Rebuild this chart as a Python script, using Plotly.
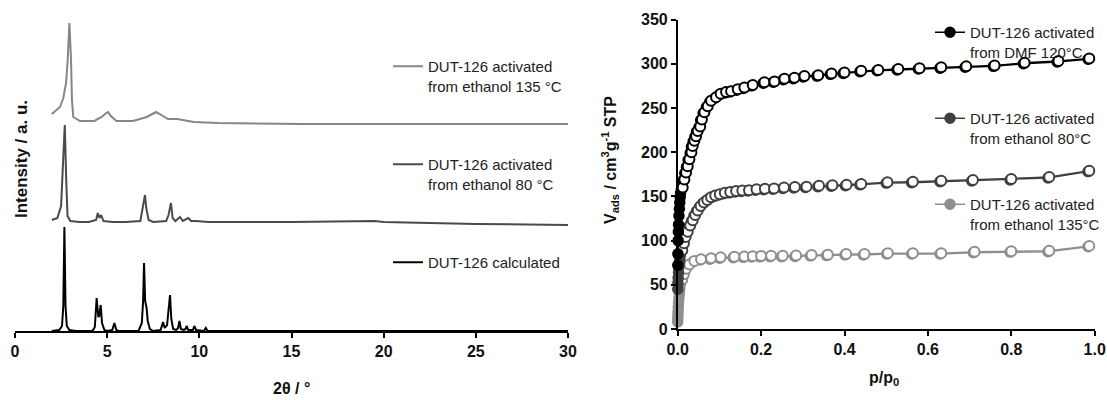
import plotly.graph_objects as go

# ---------------- powder X-ray diffraction (2θ / °, intensity / a. u.) ----------------
tt_calc = [2.0, 2.4, 2.55, 2.62, 2.68, 2.74, 2.81, 2.95, 3.3,
           4.2, 4.33, 4.43, 4.52, 4.57, 4.65, 4.72, 4.85, 5.0,
           5.28, 5.39, 5.5, 5.6,
           6.7, 6.88, 6.95, 7.0, 7.06, 7.14, 7.2, 7.32, 7.5,
           7.9, 8.03, 8.12, 8.25, 8.34, 8.41, 8.48, 8.58, 8.75,
           8.85, 8.92, 9.0, 9.15, 9.25, 9.31, 9.4, 9.65, 9.73, 9.82,
           10.25, 10.35, 10.45, 12.0, 30.0]
int_calc = [0, 1, 5, 25, 104, 25, 5, 1, 0,
            0, 4, 33, 14, 15, 26, 8, 1, 0,
            1, 8, 1, 0,
            0, 8, 30, 68, 30, 23, 10, 2, 0,
            1, 9, 3, 6, 22, 36, 12, 2, 1,
            3, 10, 2, 1, 2, 5, 1, 1, 5, 1,
            0, 3, 0, 0, 0]

tt_80 = [2.0, 2.3, 2.5, 2.6, 2.7, 2.78, 2.85, 3.0, 3.5, 4.0,
         4.4, 4.49, 4.58, 4.67, 4.8, 5.3, 6.0, 6.8, 6.95, 7.05,
         7.12, 7.25, 7.5, 8.2, 8.33, 8.46, 8.55, 8.7, 8.95, 9.1,
         9.4, 9.55, 9.8, 10.5, 15.0, 19.5, 20.0, 25.0, 30.0]
int_80 = [3, 5, 17, 52, 98, 42, 7, 2, 1, 1,
          3, 10, 5, 8, 2, 1, 1, 2, 17, 28,
          15, 3, 1, 2, 8, 20, 5, 2, 6, 2,
          5, 2, 2, 1, 1, 2, 1, -1, -2]

tt_135 = [2.0, 2.44, 2.62, 2.77, 2.86, 2.95, 3.04, 3.09, 3.16, 3.53,
          4.3, 4.7, 4.95, 5.05, 5.2, 5.5, 6.4, 7.15, 7.45, 7.65,
          7.85, 8.3, 8.8, 9.7, 11.0, 15.5, 30.0]
int_135 = [10, 17, 26, 41, 64, 101, 64, 24, 7, 3,
           3, 7, 11, 12, 8, 3, 3, 7, 10, 12,
           10, 5, 5, 2, 1, 0, 0]

# vertical stacking of the patterns
offset_calc, offset_80, offset_135 = 0, 108, 207

xrd_ticks = [0, 5, 10, 15, 20, 25, 30]

# ---------------- N2 physisorption isotherms (p/p0, V_ads / cm3 g-1 STP) ----------------
p_dmf_ads = [0.0002, 0.0005, 0.001, 0.0015, 0.002, 0.003, 0.004, 0.005, 0.006, 0.007,
             0.009, 0.013, 0.017, 0.021, 0.025, 0.030, 0.033, 0.037, 0.041, 0.045,
             0.051, 0.055, 0.061, 0.069, 0.077, 0.089, 0.100, 0.113, 0.125, 0.141,
             0.157, 0.177, 0.205, 0.229, 0.253, 0.277, 0.301, 0.334, 0.366, 0.397,
             0.437, 0.478, 0.526, 0.577, 0.629, 0.689, 0.757, 0.829, 0.910, 0.984]
v_dmf_ads = [72, 85, 100, 110, 118, 128, 136, 143, 149, 154,
             159, 168, 176, 183, 191, 199, 206, 212, 217, 223,
             228, 236, 244, 251, 257, 261, 265, 267, 268, 270,
             272, 275, 278, 279, 282, 283, 285, 286, 288, 289,
             291, 292, 293, 294, 295, 296, 297, 300, 302, 305]
p_dmf_des = [0.012, 0.016, 0.020, 0.024, 0.028, 0.033, 0.036, 0.040, 0.044, 0.048,
             0.054, 0.058, 0.064, 0.072, 0.080, 0.092, 0.103, 0.116, 0.128, 0.144,
             0.160, 0.180, 0.208, 0.232, 0.256, 0.280, 0.304, 0.337, 0.369, 0.400,
             0.440, 0.481, 0.529, 0.580, 0.632, 0.692, 0.760, 0.832, 0.913, 0.987]
v_dmf_des = [160, 169, 177, 184, 192, 200, 207, 213, 218, 224,
             229, 237, 245, 252, 258, 262, 266, 268, 269, 271,
             273, 276, 279, 280, 283, 284, 286, 287, 289, 290,
             292, 293, 294, 295, 296, 297, 298, 301, 303, 306]

p_80_ads = [0.0002, 0.0005, 0.001, 0.002, 0.003, 0.004, 0.005, 0.006, 0.008, 0.012,
            0.016, 0.021, 0.027, 0.033, 0.039, 0.045, 0.052, 0.060, 0.068, 0.077,
            0.087, 0.098, 0.110, 0.123, 0.137, 0.152, 0.168, 0.186, 0.206, 0.228,
            0.252, 0.278, 0.306, 0.336, 0.368, 0.402, 0.437, 0.500, 0.561, 0.629,
            0.705, 0.797, 0.888, 0.984]
v_80_ads = [45, 52, 58, 64, 70, 75, 79, 83, 88, 96,
            103, 109, 116, 122, 128, 133, 138, 142, 145, 148,
            150, 151.5, 153, 154, 155, 155.5, 156, 157, 157.5, 158,
            159, 159.5, 160, 161, 161.5, 162, 163, 165, 165.5, 166.6,
            167.4, 168.5, 170.8, 178]
p_80_des = [0.011, 0.015, 0.019, 0.024, 0.030, 0.036, 0.042, 0.048, 0.055, 0.063,
            0.071, 0.080, 0.090, 0.101, 0.113, 0.126, 0.140, 0.155, 0.171, 0.189,
            0.209, 0.231, 0.255, 0.281, 0.309, 0.339, 0.371, 0.405, 0.440, 0.503,
            0.564, 0.632, 0.708, 0.800, 0.891, 0.987]
v_80_des = [89, 97, 104, 110, 117, 123, 129, 134, 139, 143,
            146, 149, 151, 152.5, 154, 155, 156, 156.5, 157, 158,
            158.5, 159, 160, 160.5, 161, 162, 162.5, 163, 164, 166,
            166.5, 167.6, 168.4, 169.5, 171.8, 179]

p_135_ads = [0.0001, 0.0003, 0.0006, 0.001, 0.0015, 0.002, 0.003, 0.004, 0.005, 0.006,
             0.008, 0.012, 0.017, 0.025, 0.037, 0.053, 0.077, 0.100, 0.133, 0.157,
             0.177, 0.197, 0.221, 0.249, 0.281, 0.318, 0.357, 0.401, 0.445, 0.501,
             0.561, 0.629, 0.709, 0.797, 0.888, 0.984]
v_135_ads = [8, 12, 16, 20, 25, 30, 35, 40, 45, 50,
             55, 61, 67, 72, 76, 78, 79, 80, 80.6, 81,
             81.4, 81.6, 81.8, 81.8, 82, 82.6, 83, 83.7, 83.7, 84.8,
             84.8, 84.8, 86.3, 87, 87.4, 93]
p_135_des = [0.011, 0.015, 0.020, 0.028, 0.040, 0.056, 0.080, 0.103, 0.136, 0.160,
             0.180, 0.200, 0.224, 0.252, 0.284, 0.321, 0.360, 0.404, 0.448, 0.504,
             0.564, 0.632, 0.712, 0.800, 0.891, 0.987]
v_135_des = [56, 62, 68, 73, 77, 79, 80, 81, 81.6, 82,
             82.4, 82.6, 82.8, 82.8, 83, 83.6, 84, 84.7, 84.7, 85.8,
             85.8, 85.8, 87.3, 88, 88.4, 94]

iso_x_ticks = [0.0, 0.2, 0.4, 0.6, 0.8, 1.0]
iso_y_ticks = [0, 50, 100, 150, 200, 250, 300, 350]

FONT = "Arial, 'Liberation Sans', sans-serif"
W, H = 1107, 400
C_BLACK, C_DARK, C_LIGHT = "#000000", "#404040", "#8e8e8e"
C_XRD_DARK, C_XRD_LIGHT = "#4a4a4a", "#868686"

fig = go.Figure()

# --- XRD patterns ---
xrd = [
    (tt_135, int_135, offset_135, C_XRD_LIGHT, "DUT-126 activated<br>from ethanol 135 °C", "legend"),
    (tt_80, int_80, offset_80, C_XRD_DARK, "DUT-126 activated<br>from ethanol 80 °C", "legend2"),
    (tt_calc, int_calc, offset_calc, C_BLACK, "DUT-126 calculated", "legend3"),
]
for tt, inten, off, col, name, lg in xrd:
    fig.add_trace(go.Scatter(
        x=tt, y=[v + off for v in inten], mode="lines", name=name,
        line=dict(color=col, width=2), xaxis="x", yaxis="y", legend=lg,
    ))

# --- isotherms: filled = adsorption, open = desorption ---
iso = [
    (p_135_ads, v_135_ads, p_135_des, v_135_des, C_LIGHT, "DUT-126 activated<br>from ethanol 135°C", "legend6"),
    (p_80_ads, v_80_ads, p_80_des, v_80_des, C_DARK, "DUT-126 activated<br>from ethanol 80°C", "legend5"),
    (p_dmf_ads, v_dmf_ads, p_dmf_des, v_dmf_des, C_BLACK, "DUT-126 activated<br>from DMF 120°C", "legend4"),
]
for pa, va, pd, vd, col, name, lg in iso:
    fig.add_trace(go.Scatter(
        x=pa, y=va, mode="lines+markers", name=name, legend=lg,
        line=dict(color=col, width=1.5),
        marker=dict(symbol="circle", size=10, color=col, line=dict(color=col, width=1.5)),
        xaxis="x2", yaxis="y2", cliponaxis=False,
    ))
    fig.add_trace(go.Scatter(
        x=pd, y=vd, mode="lines+markers", showlegend=False,
        line=dict(color=col, width=1.5),
        marker=dict(symbol="circle", size=10, color="white", line=dict(color=col, width=2)),
        xaxis="x2", yaxis="y2", cliponaxis=False,
    ))

tickfont = dict(family=FONT, size=16, color="#111111")
axis_common = dict(showgrid=False, zeroline=False, showline=True, linecolor="#000000",
                   linewidth=1.5, ticks="outside", ticklen=5, tickwidth=1.5,
                   tickcolor="#000000", tickfont=tickfont, automargin=False)


def bold(vals, fmt):
    return [f"<b>{fmt.format(v)}</b>" for v in vals]


def legend_at(x_px, y_px):
    return dict(x=x_px / W, y=1 - y_px / H, xanchor="left", yanchor="top",
                bgcolor="rgba(0,0,0,0)", borderwidth=0, valign="top", itemwidth=30,
                font=dict(family=FONT, size=15, color="#222222"))


def title_note(text, x_px, y_px, angle=0, size=16):
    return dict(text=f"<b>{text}</b>", x=x_px / W, y=1 - y_px / H, xref="paper", yref="paper",
                xanchor="center", yanchor="middle", textangle=angle, showarrow=False,
                font=dict(family=FONT, size=size, color="#111111"))


fig.update_layout(
    template="none",
    width=W, height=H, margin=dict(l=0, r=0, t=0, b=0, autoexpand=False),
    paper_bgcolor="white", plot_bgcolor="white",
    font=dict(family=FONT),
    xaxis=dict(domain=[15 / W, 568 / W], range=[0, 30], tickvals=xrd_ticks,
               ticktext=bold(xrd_ticks, "{}"), anchor="y", **axis_common),
    yaxis=dict(domain=[1 - 331 / H, 1 - 15 / H], range=[0, 316], visible=False, anchor="x",
               automargin=False),
    xaxis2=dict(domain=[677.7 / W, 1094.7 / W], range=[0, 1], tickvals=iso_x_ticks,
                ticktext=bold(iso_x_ticks, "{:.1f}"), anchor="y2", **axis_common),
    yaxis2=dict(domain=[1 - 329 / H, 1 - 19.5 / H], range=[0, 350], tickvals=iso_y_ticks,
                ticktext=bold(iso_y_ticks, "{}"), anchor="x2", **axis_common),
    legend=legend_at(388, 50),
    legend2=legend_at(388, 148),
    legend3=legend_at(388, 246),
    legend4=legend_at(930, 16),
    legend5=legend_at(930, 102),
    legend6=legend_at(930, 188),
    annotations=[
        title_note("Intensity / a. u.", 21, 159, angle=-90, size=17),
        title_note("2θ / °", 292, 388),
        title_note("V<sub>ads</sub> / cm<sup>3</sup>g<sup>-1</sup> STP", 610, 160, angle=-90),
        title_note("p/p<sub>0</sub>", 884, 378),
    ],
)

fig.write_html("out.html")
